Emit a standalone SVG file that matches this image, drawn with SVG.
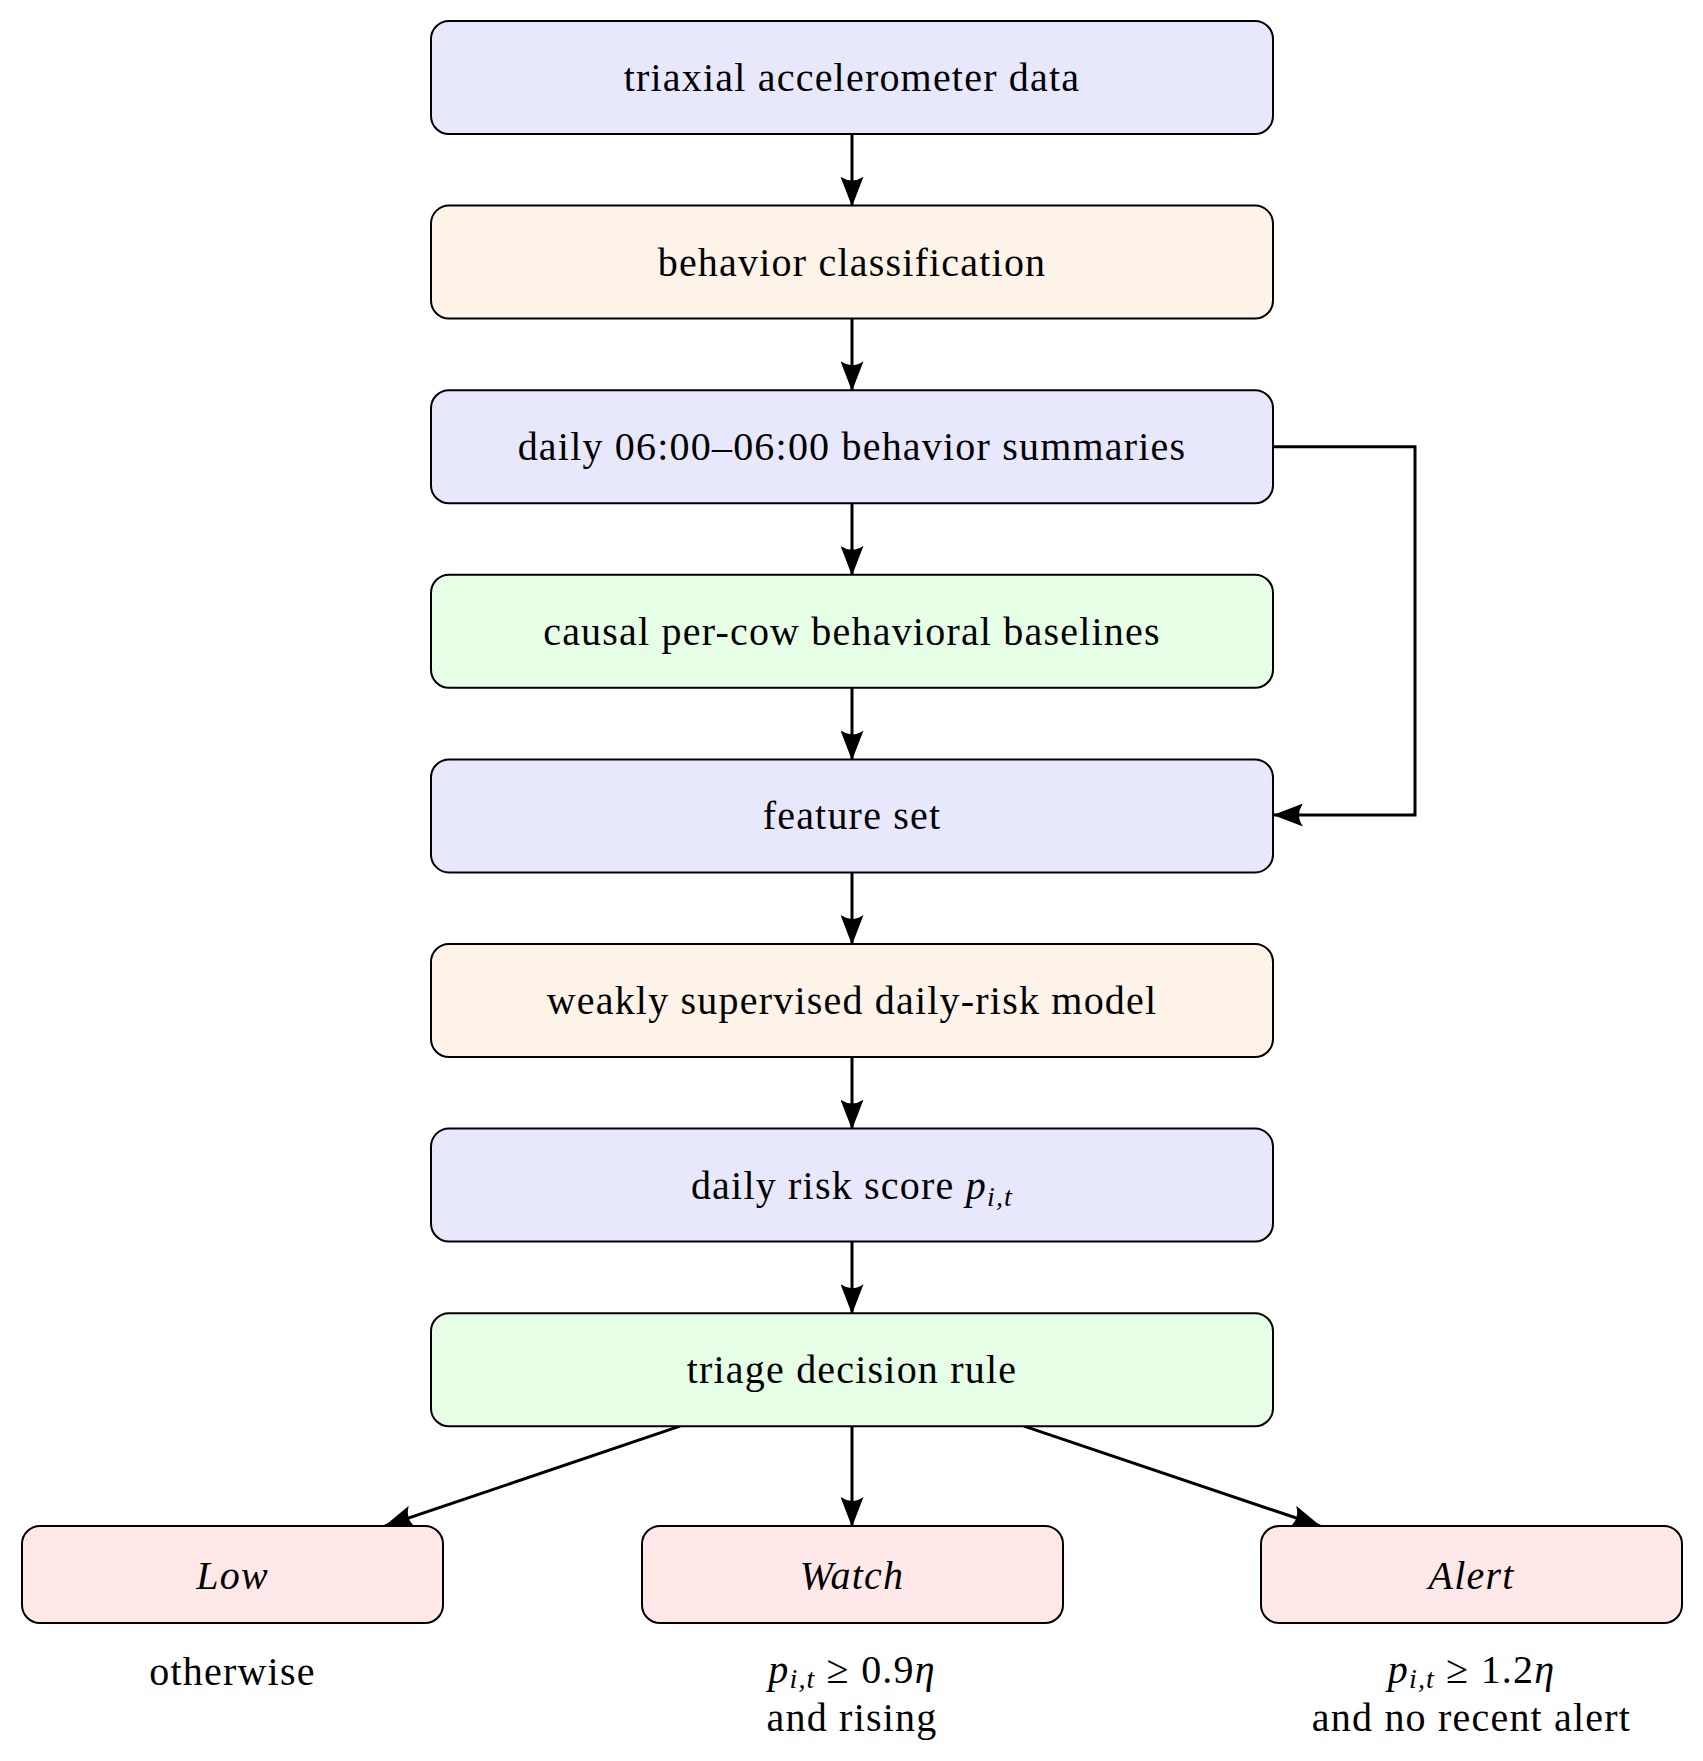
<svg xmlns="http://www.w3.org/2000/svg" width="1703" height="1761" viewBox="0 0 1703 1761">
<style>
.box{stroke:#000;stroke-width:2;}
.blue{fill:#E8E8FD;}
.orange{fill:#FEF3E8;}
.green{fill:#E6FDE6;}
.red{fill:#FEE8E8;}
.lbl{font-family:"Liberation Serif",serif;font-size:40px;letter-spacing:1.2px;fill:#000;text-anchor:middle;}
.it{font-style:italic;}
.sub{font-style:italic;font-size:28px;}
.conn{fill:none;stroke:#000;stroke-width:3;}
</style>
<defs>
<marker id="ah" viewBox="0 0 30 23" refX="29" refY="11.5" markerWidth="30" markerHeight="23" markerUnits="userSpaceOnUse" orient="auto">
<path d="M0,0 L30,11.5 L0,23 Q8,11.5 0,0 z" fill="#000"/>
</marker>
</defs>
<rect width="1703" height="1761" fill="#fff"/>
<g id="connectors">
<line class="conn" x1="852" y1="134" x2="852" y2="205.6" marker-end="url(#ah)"/>
<line class="conn" x1="852" y1="318.6" x2="852" y2="390.2" marker-end="url(#ah)"/>
<line class="conn" x1="852" y1="503.2" x2="852" y2="574.8" marker-end="url(#ah)"/>
<line class="conn" x1="852" y1="687.8" x2="852" y2="759.4" marker-end="url(#ah)"/>
<line class="conn" x1="852" y1="872.4" x2="852" y2="944" marker-end="url(#ah)"/>
<line class="conn" x1="852" y1="1057" x2="852" y2="1128.6" marker-end="url(#ah)"/>
<line class="conn" x1="852" y1="1241.6" x2="852" y2="1313.2" marker-end="url(#ah)"/>
<polyline class="conn" points="1273,446.7 1415,446.7 1415,815 1274,815" marker-end="url(#ah)"/>
<line class="conn" x1="680" y1="1426.2" x2="385" y2="1526" marker-end="url(#ah)"/>
<line class="conn" x1="852" y1="1426.2" x2="852" y2="1526" marker-end="url(#ah)"/>
<line class="conn" x1="1024" y1="1426.2" x2="1320" y2="1526" marker-end="url(#ah)"/>
</g>
<g id="n1"><rect class="box blue" x="431" y="21" width="842" height="113" rx="18"/><text class="lbl" x="852" y="91">triaxial accelerometer data</text></g>
<g id="n2"><rect class="box orange" x="431" y="205.6" width="842" height="113" rx="18"/><text class="lbl" x="852" y="275.6">behavior classification</text></g>
<g id="n3"><rect class="box blue" x="431" y="390.2" width="842" height="113" rx="18"/><text class="lbl" x="852" y="460.2">daily 06:00–06:00 behavior summaries</text></g>
<g id="n4"><rect class="box green" x="431" y="574.8" width="842" height="113" rx="18"/><text class="lbl" x="852" y="644.8">causal per-cow behavioral baselines</text></g>
<g id="n5"><rect class="box blue" x="431" y="759.4" width="842" height="113" rx="18"/><text class="lbl" x="852" y="829.4">feature set</text></g>
<g id="n6"><rect class="box orange" x="431" y="944" width="842" height="113" rx="18"/><text class="lbl" x="852" y="1014">weakly supervised daily-risk model</text></g>
<g id="n7"><rect class="box blue" x="431" y="1128.6" width="842" height="113" rx="18"/><text class="lbl" x="852" y="1198.6">daily risk score <tspan class="it">p</tspan><tspan class="sub" dy="7">i,t</tspan></text></g>
<g id="n8"><rect class="box green" x="431" y="1313.2" width="842" height="113" rx="18"/><text class="lbl" x="852" y="1383.2">triage decision rule</text></g>
<g id="low"><rect class="box red" x="22" y="1526" width="421" height="97" rx="18"/><text class="lbl it" x="232.5" y="1589">Low</text></g>
<g id="watch"><rect class="box red" x="642" y="1526" width="421" height="97" rx="18"/><text class="lbl it" x="852" y="1589">Watch</text></g>
<g id="alert"><rect class="box red" x="1261" y="1526" width="421" height="97" rx="18"/><text class="lbl it" x="1471.5" y="1589">Alert</text></g>
<g id="conditions">
<text class="lbl" x="232.5" y="1685">otherwise</text>
<text class="lbl" x="852" y="1683"><tspan class="it">p</tspan><tspan class="sub" dy="5">i,t</tspan><tspan dy="-5"> ≥ 0.9</tspan><tspan class="it">η</tspan></text>
<text class="lbl" x="852" y="1731">and rising</text>
<text class="lbl" x="1471.5" y="1683"><tspan class="it">p</tspan><tspan class="sub" dy="5">i,t</tspan><tspan dy="-5"> ≥ 1.2</tspan><tspan class="it">η</tspan></text>
<text class="lbl" x="1471.5" y="1731">and no recent alert</text>
</g>
</svg>
